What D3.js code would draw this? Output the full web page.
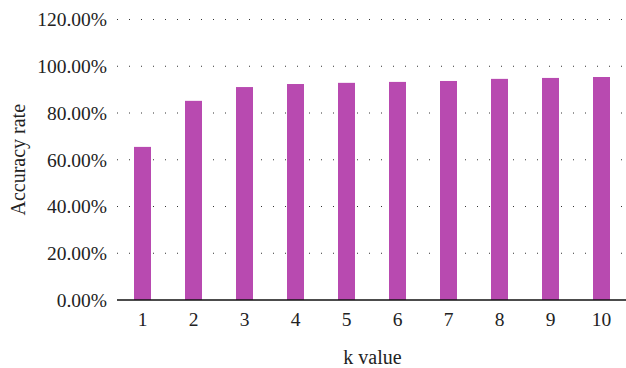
<!DOCTYPE html>
<html>
<head>
<meta charset="utf-8">
<script src="https://cdn.jsdelivr.net/npm/d3@7"></script>
<style>
  body { margin: 0; background: #fff; }
  svg { display: block; }
  svg text { font-family: "Liberation Serif", serif; fill: #222; }
</style>
</head>
<body>
<div id="chart"></div>
<script>
var kValues = ["1", "2", "3", "4", "5", "6", "7", "8", "9", "10"];
var accuracy = [0.655, 0.852, 0.911, 0.924, 0.929, 0.933, 0.937, 0.946, 0.950, 0.954];
var yTicks = [0, 0.2, 0.4, 0.6, 0.8, 1.0, 1.2];

var margin = { top: 19.5, right: 0, bottom: 68, left: 117 },
    width = 626 - margin.left - margin.right,
    height = 368 - margin.top - margin.bottom;

var svg = d3.select("#chart")
    .append("svg")
    .attr("width", 626)
    .attr("height", 368)
    .append("g")
    .attr("transform", "translate(" + margin.left + "," + margin.top + ")");

var x = d3.scaleBand()
    .domain(kValues)
    .range([0, width + 1])
    .padding(0);

var y = d3.scaleLinear()
    .domain([0, 1.2])
    .range([height, 0]);

// dotted grid lines
svg.selectAll("line.y-grid")
    .data(yTicks.filter(function(d) { return d > 0; }))
    .enter()
    .append("line")
    .attr("class", "y-grid")
    .attr("x1", 0)
    .attr("x2", width)
    .attr("y1", function(d) { return y(d); })
    .attr("y2", function(d) { return y(d); })
    .style("stroke", "#333")
    .style("stroke-width", 1)
    .style("stroke-dasharray", "1,11");

// bars
var barW = x.bandwidth() / 3;
svg.selectAll("rect.bar")
    .data(accuracy)
    .enter().append("rect")
    .attr("class", "bar")
    .attr("x", function(d, i) { return x(kValues[i]) + (x.bandwidth() - barW) / 2; })
    .attr("y", function(d) { return y(d); })
    .attr("width", barW)
    .attr("height", function(d) { return height - y(d); })
    .style("fill", "#b84ab0");

// y axis labels
var yAxis = d3.axisLeft(y)
    .tickValues(yTicks)
    .tickSize(0)
    .tickPadding(10)
    .tickFormat(function(d) { return (d * 100).toFixed(2) + "%"; });

var gy = svg.append("g").call(yAxis);
gy.select(".domain").remove();
gy.selectAll("text")
    .style("font-size", "19.5px")
    .style("font-family", "'Liberation Serif', serif");

// x axis
var xAxis = d3.axisBottom(x).tickSize(0).tickPadding(12);
var gx = svg.append("g")
    .attr("transform", "translate(0," + height + ")")
    .call(xAxis);
gx.select(".domain").remove();
gx.selectAll("text")
    .style("font-size", "19.5px")
    .style("font-family", "'Liberation Serif', serif");

svg.append("line")
    .attr("x1", 0)
    .attr("x2", width)
    .attr("y1", height)
    .attr("y2", height)
    .style("stroke", "#111")
    .style("stroke-width", 1.5);

// axis titles
svg.append("text")
    .attr("x", width / 2 + 1)
    .attr("y", height + 64)
    .style("text-anchor", "middle")
    .style("font-size", "20px")
    .text("k value");

svg.append("text")
    .attr("transform", "rotate(-90)")
    .attr("x", -height / 2)
    .attr("y", -margin.left + 25)
    .style("text-anchor", "middle")
    .style("font-size", "20px")
    .text("Accuracy rate");
</script>
</body>
</html>
